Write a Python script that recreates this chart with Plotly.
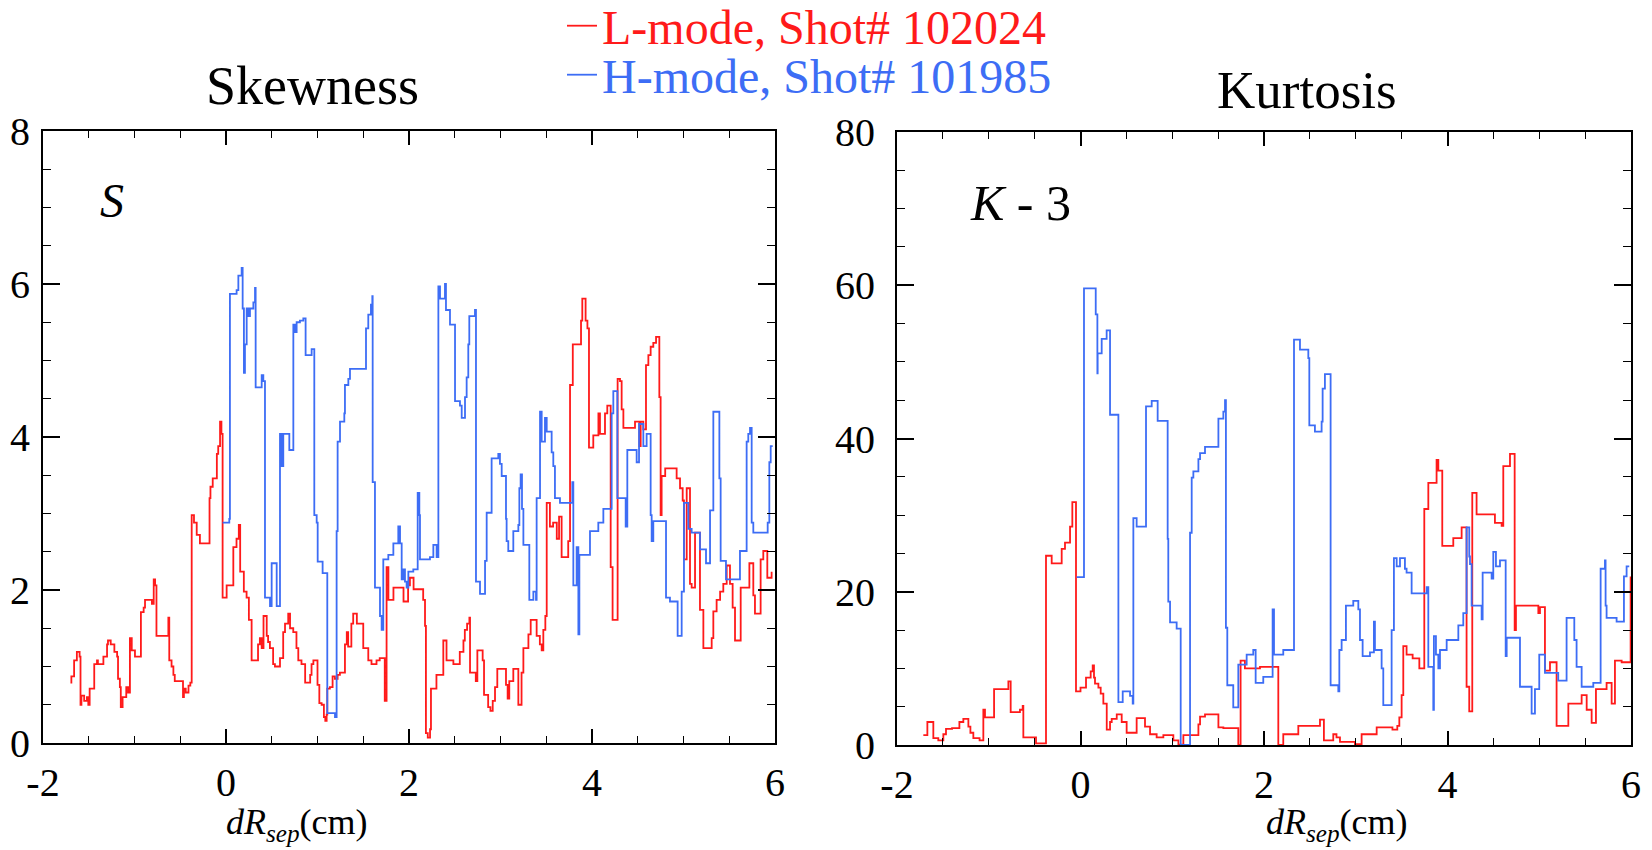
import plotly.graph_objects as go

# ---------------- data ----------------
S_L_x = [-1.70,-1.69,-1.66,-1.63,-1.60,-1.59,-1.58,-1.55,-1.52,-1.505,-1.49,-1.44,-1.41,-1.40,-1.34,-1.30,-1.29,-1.26,-1.22,-1.19,
         -1.18,-1.16,-1.15,-1.13,-1.09,-1.07,-1.05,-1.03,-0.995,-0.93,-0.90,-0.885,-0.81,-0.79,-0.775,-0.76,-0.63,-0.62,-0.595,-0.575,
         -0.56,-0.47,-0.46,-0.44,-0.41,-0.39,-0.375,-0.35,-0.32,-0.285,-0.18,-0.17,-0.145,-0.10,-0.085,-0.065,-0.05,-0.037,0.007,0.08,
         0.115,0.14,0.155,0.195,0.225,0.25,0.28,0.35,0.37,0.39,0.41,0.445,0.46,0.48,0.515,0.535,0.59,0.625,0.645,0.68,
         0.70,0.735,0.77,0.79,0.825,0.865,0.92,0.935,0.955,1.00,1.02,1.045,1.07,1.085,1.10,1.107,1.135,1.165,1.19,1.22,
         1.245,1.30,1.32,1.335,1.37,1.39,1.43,1.50,1.555,1.59,1.645,1.68,1.735,1.755,1.775,1.83,1.94,1.99,2.01,2.05,
         2.155,2.175,2.185,2.205,2.23,2.24,2.30,2.375,2.41,2.485,2.555,2.595,2.61,2.635,2.66,2.667,2.73,2.747,2.805,2.82,
         2.865,2.89,2.915,2.94,2.965,3.06,3.078,3.096,3.14,3.195,3.23,3.25,3.305,3.33,3.395,3.43,3.45,3.468,3.49,3.505,
         3.54,3.575,3.615,3.64,3.668,3.74,3.76,3.79,3.88,3.894,3.93,3.95,3.967,4.014,4.07,4.087,4.142,4.167,4.204,4.225,
         4.28,4.306,4.324,4.343,4.47,4.518,4.532,4.561,4.59,4.616,4.641,4.67,4.70,4.736,4.75,4.761,4.80,4.925,4.962,4.991,
         5.005,5.035,5.071,5.089,5.126,5.18,5.217,5.308,5.326,5.362,5.40,5.435,5.472,5.508,5.537,5.563,5.625,5.72,5.763,5.781,
         5.843,5.872,5.916,5.963]
S_L_y = [0.79,0.87,1.08,1.19,1.13,0.50,0.62,0.55,0.60,0.50,0.71,1.03,1.08,1.03,1.13,1.29,1.34,1.29,1.19,1.13,
         0.84,0.73,0.47,0.60,0.73,0.66,1.37,1.21,1.13,1.71,1.77,1.87,1.82,2.14,2.06,1.40,1.64,1.08,1.00,0.89,
         0.81,0.60,0.71,0.66,0.75,0.79,2.98,2.88,2.72,2.61,3.20,3.35,3.46,3.78,3.88,4.20,4.04,1.90,2.06,2.56,
         2.67,2.85,2.24,1.98,1.90,1.61,1.08,1.29,1.37,1.24,1.66,1.40,1.32,1.24,1.03,1.00,1.11,1.45,1.56,1.69,
         1.50,1.45,1.24,1.08,1.03,0.79,0.89,1.03,1.08,0.76,0.52,0.50,0.34,0.29,0.37,0.71,0.73,0.87,0.84,0.89,
         0.92,1.29,1.45,1.26,1.56,1.69,1.56,1.24,1.08,1.03,1.08,1.11,0.55,2.30,1.87,2.03,1.85,2.06,2.16,2.01,
         1.87,1.53,0.13,0.07,0.18,0.71,0.89,1.34,1.08,1.03,1.19,1.34,1.48,1.56,1.64,0.92,0.81,1.21,1.08,0.63,
         0.47,0.42,0.55,0.73,0.97,0.76,0.58,0.81,0.97,0.50,0.92,1.24,1.42,1.61,1.40,1.29,1.21,1.48,1.66,3.14,
         2.83,2.88,2.67,2.96,2.43,2.64,4.68,5.21,5.52,5.81,5.52,5.42,3.86,4.02,4.31,4.04,4.31,4.41,2.30,1.61,
         4.76,4.73,4.36,4.12,4.20,3.88,4.20,4.10,4.94,5.07,5.18,5.23,5.31,4.52,2.98,3.49,3.59,3.46,3.33,3.17,
         2.40,3.33,2.08,2.03,2.75,1.74,1.24,1.37,1.72,1.87,1.98,2.08,2.32,2.08,1.77,1.34,2.03,2.35,1.93,1.69,
         2.40,2.51,2.16,2.24]

S_H_x = [-0.037,0.036,0.043,0.116,0.135,0.171,0.182,0.196,0.207,0.226,0.244,0.262,0.299,0.317,0.324,0.390,0.408,0.426,0.481,0.499,
         0.554,0.590,0.608,0.626,0.692,0.736,0.754,0.772,0.808,0.845,0.870,0.936,0.965,0.991,1.002,1.056,1.107,1.166,1.191,1.209,
         1.220,1.246,1.293,1.300,1.337,1.355,1.530,1.555,1.584,1.599,1.603,1.628,1.683,1.701,1.719,1.774,1.829,1.883,1.902,1.920,
         1.938,1.956,1.974,1.993,2.047,2.095,2.113,2.120,2.229,2.266,2.302,2.321,2.339,2.393,2.404,2.448,2.503,2.557,2.576,2.612,
         2.630,2.648,2.659,2.721,2.732,2.776,2.831,2.849,2.903,2.976,2.994,3.013,3.060,3.067,3.085,3.140,3.195,3.206,3.220,3.235,
         3.250,3.315,3.359,3.388,3.395,3.432,3.450,3.486,3.505,3.559,3.577,3.595,3.650,3.785,3.796,3.832,3.851,3.862,3.978,4.069,
         4.124,4.215,4.233,4.277,4.368,4.386,4.488,4.514,4.561,4.597,4.641,4.652,4.670,4.809,4.852,4.936,4.980,5.005,5.053,5.089,
         5.180,5.246,5.290,5.326,5.392,5.406,5.464,5.617,5.690,5.708,5.727,5.745,5.763,5.920,5.938,5.953,5.975]
S_H_y = [2.88,2.93,5.87,5.92,6.11,6.21,5.68,4.84,5.21,5.68,5.58,5.68,5.76,5.95,4.65,4.81,4.73,1.90,1.79,2.35,
         1.79,4.04,3.62,4.04,3.83,5.47,5.37,5.50,5.52,5.55,5.07,5.15,2.98,2.88,2.37,2.22,0.39,0.39,0.34,2.77,
         3.94,4.20,4.31,4.68,4.76,4.89,5.42,5.60,5.73,5.84,3.41,2.03,1.66,1.48,2.40,2.46,2.61,2.83,2.61,2.14,
         2.27,2.11,2.03,2.24,2.27,3.27,2.98,2.40,2.43,2.59,2.43,5.97,5.81,6.00,5.66,5.47,4.47,4.41,4.25,4.52,
         4.78,5.21,5.58,5.66,2.11,1.95,2.38,3.01,3.72,3.78,3.65,3.49,2.93,2.64,2.51,2.77,2.85,3.33,3.51,3.06,
         2.59,1.87,1.98,1.87,3.20,4.33,3.94,4.25,4.07,3.80,3.62,3.20,3.14,3.41,2.06,2.56,1.42,2.46,2.77,2.88,
         3.06,4.31,4.60,3.20,2.83,3.83,3.67,4.17,3.88,4.04,2.98,2.64,2.90,1.90,1.85,1.40,1.98,3.14,2.80,2.75,
         2.53,2.35,3.04,4.33,3.46,2.38,2.14,2.51,3.94,4.04,4.12,2.88,2.75,2.88,3.67,3.88,3.88]

K_L_x = [-1.713,-1.669,-1.604,-1.55,-1.495,-1.466,-1.40,-1.320,-1.277,-1.222,-1.20,-1.168,-1.10,-1.059,-1.041,-0.942,-0.786,-0.761,-0.66,-0.630,
         -0.623,-0.485,-0.376,-0.314,-0.205,-0.169,-0.114,-0.089,-0.049,0.0,0.060,0.111,0.133,0.147,0.158,0.195,0.220,0.249,0.286,0.322,
         0.340,0.395,0.449,0.503,0.612,0.703,0.758,0.830,0.903,1.012,1.067,1.121,1.285,1.303,1.357,1.503,1.557,1.720,1.745,1.792,
         1.956,2.156,2.210,2.374,2.610,2.653,2.755,2.79,2.828,2.991,3.064,3.228,3.40,3.453,3.475,3.500,3.518,3.554,3.62,3.693,
         3.747,3.791,3.881,3.900,3.943,4.063,4.154,4.208,4.237,4.270,4.317,4.517,4.590,4.608,4.681,4.732,4.746,4.990,5.008,5.062,
         5.117,5.189,5.317,5.462,5.517,5.571,5.618,5.734,5.789,5.825,5.898,5.996]
K_L_y = [1.3,3.0,0.9,0.6,1.4,2.1,2.2,3.0,3.4,2.4,1.6,0.9,0.6,4.6,3.6,7.3,8.3,4.3,4.6,5.1,
         1.0,0.2,24.7,23.7,25.6,26.4,28.5,31.7,7.0,7.5,8.8,9.6,10.4,8.8,8.0,7.5,6.7,5.4,2.0,3.0,
         3.4,4.0,3.0,1.6,3.5,2.4,1.4,1.0,1.3,0.6,0.05,1.3,2.7,3.7,4.0,2.3,2.2,0.0,11.0,10.0,
         10.2,0.0,1.4,2.5,3.3,0.6,1.4,1.0,0.4,0.1,1.4,2.3,2.0,2.5,3.6,6.5,12.9,11.8,11.3,10.0,
         30.8,34.2,37.2,35.8,26.0,27.0,28.4,7.6,4.4,32.9,30.1,29.0,28.6,36.4,38.0,15.0,18.2,17.2,18.0,9.7,
         10.8,2.5,5.4,6.5,4.6,2.9,7.3,8.1,5.4,11.0,10.8,22.0]

K_H_x = [-0.042,0.038,0.166,0.184,0.187,0.231,0.285,0.322,0.413,0.460,0.540,0.569,0.576,0.612,0.714,0.776,0.841,0.950,0.957,0.976,
         1.048,1.092,1.194,1.212,1.230,1.285,1.303,1.357,1.503,1.557,1.575,1.585,1.600,1.665,1.720,1.811,1.883,1.909,1.992,2.094,
         2.109,2.210,2.327,2.392,2.483,2.494,2.555,2.628,2.639,2.664,2.726,2.810,2.821,2.846,2.893,2.973,3.028,3.046,3.075,3.155,
         3.198,3.209,3.282,3.300,3.391,3.416,3.446,3.482,3.536,3.554,3.609,3.773,3.791,3.845,3.852,3.874,3.900,3.918,3.991,4.118,
         4.172,4.208,4.237,4.245,4.263,4.372,4.383,4.481,4.499,4.528,4.572,4.634,4.645,4.790,4.917,4.953,5.000,5.062,5.207,5.298,
         5.382,5.407,5.462,5.589,5.669,5.698,5.716,5.723,5.734,5.843,5.923,5.952,5.981]
K_H_y = [21.9,59.6,56.2,48.5,51.1,53.0,54.1,43.1,5.6,7.0,6.4,5.4,29.6,28.5,44.2,44.9,42.3,26.9,18.7,16.0,
         15.2,0.0,27.7,34.9,35.7,37.3,38.1,38.9,42.6,43.5,45.0,15.3,7.8,4.9,10.5,11.8,12.4,8.1,8.9,17.7,
         11.8,12.4,52.9,51.6,50.5,41.7,40.9,42.2,46.5,48.4,7.8,7.0,12.4,13.7,18.2,18.8,17.7,13.7,11.6,12.1,
         16.1,12.4,10.0,5.2,15.0,24.4,23.3,24.4,23.0,22.5,19.8,20.6,10.2,4.6,14.2,11.8,10.0,12.4,13.7,15.6,
         17.2,28.4,24.6,23.6,18.2,16.4,22.5,21.7,25.2,23.3,24.1,11.6,14.0,7.6,4.1,7.3,11.8,9.4,8.4,16.6,
         13.7,10.2,7.6,8.1,23.0,23.0,24.1,18.2,16.6,16.1,22.0,23.3,23.3]

LEGEND_L = "L-mode, Shot# 102024"
LEGEND_H = "H-mode, Shot# 101985"
TITLE_S = "Skewness"
TITLE_K = "Kurtosis"
LABEL_S = "<i>S</i>"
LABEL_K = "<i>K</i> - 3"
X_TITLE = "<i>dR</i><sub><i>sep</i></sub>(cm)"

X_RANGE = [-2, 6]
X_TICKVALS = [-2, 0, 2, 4, 6]
X_TICKTEXT = ["-2", "0", "2", "4", "6"]
S_RANGE = [0, 8]
K_RANGE = [0, 80]

# ---------------- styling ----------------
RED = "#ff1a1a"
BLUE = "#3d6df5"
FONT = "Liberation Serif"
W, H = 1652, 850
LW = 1.8

fig = go.Figure()
fig.add_trace(go.Scatter(x=S_L_x, y=S_L_y, mode="lines", line=dict(color=RED, width=LW, shape="hv"),
                         name=LEGEND_L, legend="legend", xaxis="x", yaxis="y"))
fig.add_trace(go.Scatter(x=S_H_x, y=S_H_y, mode="lines", line=dict(color=BLUE, width=LW, shape="hv"),
                         name=LEGEND_H, legend="legend2", xaxis="x", yaxis="y"))
fig.add_trace(go.Scatter(x=K_L_x, y=K_L_y, mode="lines", line=dict(color=RED, width=LW, shape="hv"),
                         showlegend=False, xaxis="x2", yaxis="y2"))
fig.add_trace(go.Scatter(x=K_H_x, y=K_H_y, mode="lines", line=dict(color=BLUE, width=LW, shape="hv"),
                         showlegend=False, xaxis="x2", yaxis="y2"))

def px_x(p):
    return p / W

def px_y(p):
    return 1 - p / H

common_axis = dict(showgrid=False, zeroline=False, showline=True, linecolor="black", linewidth=2,
                   mirror="ticks", ticks="inside", tickcolor="black", tickwidth=1.5, automargin=False,
                   tickfont=dict(family=FONT, size=40, color="black"))

minor_x = dict(dtick=0.5, ticklen=7, ticks="inside", tickcolor="black", tickwidth=1.2)

def text_ann(text, x, y, size, xanchor="center"):
    return dict(text=text, x=px_x(x), y=px_y(y), xref="paper", yref="paper", showarrow=False,
                xanchor=xanchor, yanchor="middle", font=dict(family=FONT, size=size, color="black"))

fig.update_layout(
    width=W, height=H, margin=dict(l=0, r=0, t=0, b=0, autoexpand=False),
    paper_bgcolor="white", plot_bgcolor="white",
    font=dict(family=FONT, color="black"),
    xaxis=dict(domain=[px_x(43), px_x(775)], range=X_RANGE, tickmode="array", tickvals=X_TICKVALS,
               ticktext=X_TICKTEXT, ticklen=14, anchor="y", minor=minor_x, ticklabelstandoff=3,
               **common_axis),
    yaxis=dict(domain=[px_y(743), px_y(131)], range=S_RANGE, dtick=2, ticklen=17, anchor="x",
               minor=dict(dtick=0.5, ticklen=8, ticks="inside", tickcolor="black", tickwidth=1.2),
               ticklabelstandoff=3, **common_axis),
    xaxis2=dict(domain=[px_x(897), px_x(1631)], range=X_RANGE, tickmode="array", tickvals=X_TICKVALS,
                ticktext=X_TICKTEXT, ticklen=14, anchor="y2", minor=minor_x, ticklabelstandoff=3,
                **common_axis),
    yaxis2=dict(domain=[px_y(745), px_y(132)], range=K_RANGE, dtick=20, ticklen=17, anchor="x2",
                minor=dict(dtick=5, ticklen=8, ticks="inside", tickcolor="black", tickwidth=1.2),
                ticklabelstandoff=12, **common_axis),
    legend=dict(x=px_x(562), y=px_y(-12), xanchor="left", yanchor="top",
                font=dict(family=FONT, size=48, color=RED), bgcolor="rgba(0,0,0,0)",
                borderwidth=0, itemwidth=30),
    legend2=dict(x=px_x(562), y=px_y(37), xanchor="left", yanchor="top",
                 font=dict(family=FONT, size=48, color=BLUE), bgcolor="rgba(0,0,0,0)",
                 borderwidth=0, itemwidth=30),
    annotations=[
        text_ann(TITLE_S, 312, 86, 54),
        text_ann(TITLE_K, 1307, 90, 53),
        text_ann(LABEL_S, 98, 200, 48, "left"),
        text_ann(LABEL_K, 968, 203, 50, "left"),
        text_ann(X_TITLE, 297, 824, 36),
        text_ann(X_TITLE, 1337, 824, 36),
    ],
)

fig.write_html("out.html")
